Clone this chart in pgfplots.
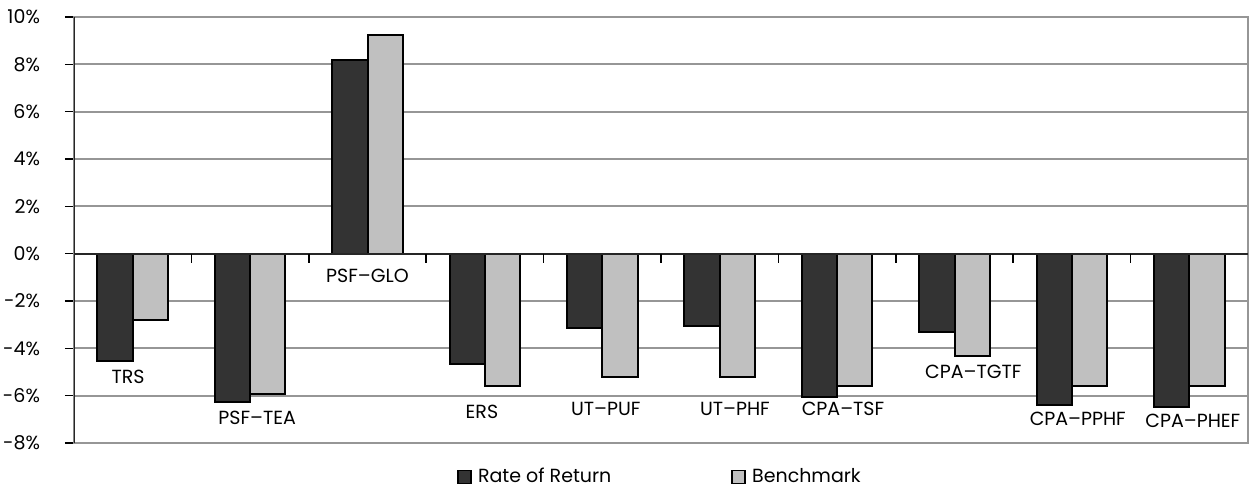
\documentclass[border=0pt]{standalone}
\usepackage{pgfplots}
\pgfplotsset{compat=1.18}
\usetikzlibrary{calc}
\usepackage{fontspec}
\setmainfont{Poppins}
\definecolor{darkbar}{HTML}{333333}
\definecolor{lightbar}{HTML}{C0C0C0}
\definecolor{gridgray}{HTML}{969696}
\begin{document}
\begin{tikzpicture}
\begin{axis}[
  scale only axis, width=587pt, height=213pt,
  font=\fontsize{9.5}{11}\selectfont,
  ybar=0pt, bar width=0.3,
  xmin=-0.5, xmax=9.5, ymin=-8, ymax=10,
  xtick=\empty,
  ytick={-8,-6,...,10},
  yticklabels={-8\%,-6\%,-4\%,-2\%,0\%,2\%,4\%,6\%,8\%,10\%},
  ymajorgrids, grid style={gridgray, line width=0.9pt},
  axis line style={gridgray, line width=0.9pt},
  ytick style={black, line width=0.8pt}, tick align=outside,
  major tick length=4.5pt,
  yticklabel style={xshift=-9pt},
  legend style={at={(0.5,-0.08)}, anchor=center, draw=none, legend columns=2,
    /tikz/every even column/.append style={column sep=58pt}},
  legend image code/.code={
    \draw[#1, line width=0.8pt] (0pt,-3.2pt) rectangle (6.5pt,3.3pt);
    \path[draw=none, fill=none] (0pt,0pt) -- (8pt,0pt);},
]
\addplot[fill=darkbar, draw=black, line width=1pt] coordinates {
  (0,-4.55) (1,-6.27) (2,8.2) (3,-4.66) (4,-3.14) (5,-3.06) (6,-6.07) (7,-3.3) (8,-6.41) (9,-6.49)};
\addplot[fill=lightbar, draw=black, line width=1pt] coordinates {
  (0,-2.79) (1,-5.93) (2,9.22) (3,-5.58) (4,-5.22) (5,-5.22) (6,-5.58) (7,-4.32) (8,-5.58) (9,-5.58)};
\legend{Rate of Return, Benchmark}
\draw[black!85, line width=0.9pt] (rel axis cs:0,0) -- (rel axis cs:0,1);
\draw[black!85, line width=0.9pt] (axis cs:-0.5,0) -- (axis cs:9.5,0);
\pgfplotsinvokeforeach{0.5,1.5,2.5,3.5,4.5,5.5,6.5,7.5,8.5}{
  \draw[black, line width=0.8pt] (axis cs:#1,0) -- ++(0pt,-4.5pt);}
\node at (axis cs:-0.04,-5.22) {TRS};
\node at (axis cs:1.06,-6.92) {PSF–TEA};
\node at (axis cs:2.0,-0.93) {PSF–GLO};
\node at (axis cs:2.975,-6.70) {ERS};
\node at (axis cs:4.03,-6.55) {UT–PUF};
\node at (axis cs:5.13,-6.55) {UT–PHF};
\node at (axis cs:6.05,-6.55) {CPA–TSF};
\node at (axis cs:7.16,-5.01) {CPA–TGTF};
\node at (axis cs:8.05,-6.98) {CPA–PPHF};
\node at (axis cs:9.03,-7.06) {CPA–PHEF};
\coordinate (bl) at (rel axis cs:0,0);
\coordinate (tr) at (rel axis cs:1,1);
\end{axis}
\pgfresetboundingbox
\path ($(bl)+(-37pt,-22pt)$) rectangle ($(tr)+(0.5pt,8.5pt)$);
\end{tikzpicture}
\end{document}
